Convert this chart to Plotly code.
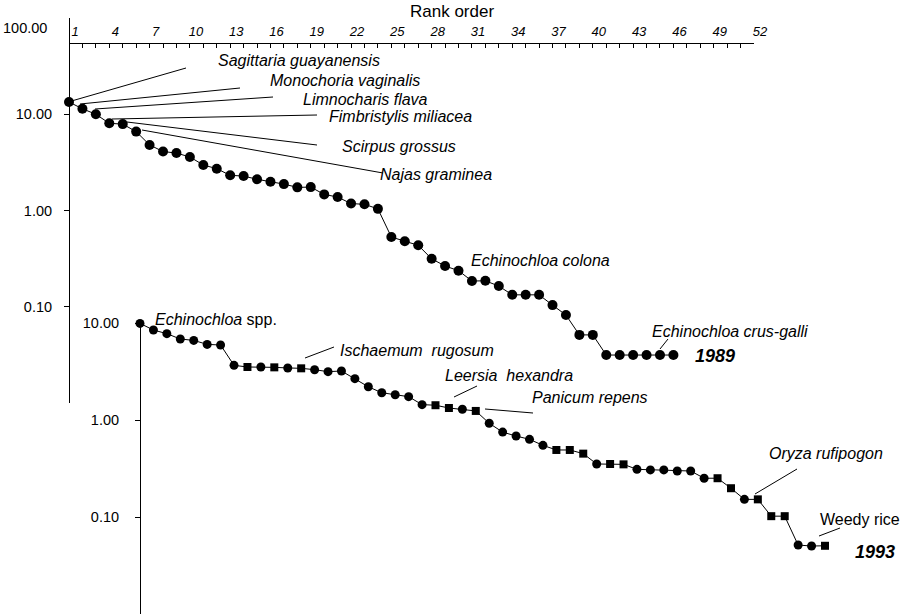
import plotly.graph_objects as go

W, H = 907, 615

# ranks and relative cover values (log scale)
rank_1989 = list(range(1, 47))
cover_1989 = [13.4, 11.4, 10.0, 8.05, 7.9, 6.6, 4.8, 4.1, 3.95, 3.6,
              2.97, 2.72, 2.32, 2.28, 2.11, 1.99, 1.88, 1.74, 1.75, 1.47,
              1.38, 1.18, 1.16, 1.04, 0.53, 0.48, 0.435, 0.315, 0.265, 0.237,
              0.185, 0.186, 0.164, 0.133, 0.133, 0.133, 0.104, 0.082, 0.051, 0.051,
              0.0315, 0.0315, 0.0315, 0.0315, 0.0315, 0.0315]

rank_1993 = list(range(1, 53))
cover_1993 = [9.9, 8.47, 7.76, 6.84, 6.62, 6.02, 5.93, 3.66, 3.52, 3.52,
              3.49, 3.44, 3.41, 3.30, 3.15, 3.20, 2.67, 2.20, 1.91, 1.82,
              1.74, 1.44, 1.42, 1.33, 1.29, 1.24, 0.925, 0.75, 0.684, 0.632,
              0.548, 0.491, 0.491, 0.450, 0.352, 0.352, 0.349, 0.310, 0.306, 0.306,
              0.298, 0.298, 0.251, 0.251, 0.198, 0.152, 0.152, 0.102, 0.102, 0.0514,
              0.0502, 0.0505]
# ranks drawn with square markers in 1993
square_ranks_1993 = [9, 11, 13, 23, 24, 26, 32, 33, 34, 36, 37, 44, 45, 47, 48, 49, 52]

top_ticks = list(range(1, 53))
top_ticktext = [str(r) if (r - 1) % 3 == 0 else '' for r in top_ticks]
y_tickvals = [10, 1, 0.1]
y_ticktext = ['10.00', '1.00', '0.10']

FONT = 'Liberation Sans, Arial, sans-serif'


def px(x, y):
    # pixel position -> paper coords
    return x / W, 1 - y / H


symbols_1993 = ['square' if r in square_ranks_1993 else 'circle' for r in rank_1993]
sizes_1993 = [8 if s == 'square' else 9 for s in symbols_1993]

trace1 = go.Scatter(x=rank_1989, y=cover_1989, mode='lines+markers', xaxis='x', yaxis='y',
                    line=dict(color='black', width=1), cliponaxis=False,
                    marker=dict(symbol='circle', size=10, color='black', opacity=1,
                                line=dict(width=0)), name='1989')
trace2 = go.Scatter(x=rank_1993, y=cover_1993, mode='lines+markers', xaxis='x2', yaxis='y2',
                    line=dict(color='black', width=1), cliponaxis=False,
                    marker=dict(symbol=symbols_1993, size=sizes_1993, color='black', opacity=1,
                                line=dict(width=0)), name='1993')

fig = go.Figure(data=[trace1, trace2])

fig.update_layout(
    template='none',
    width=W, height=H, margin=dict(l=0, r=0, t=0, b=0, pad=0),
    paper_bgcolor='white', plot_bgcolor='rgba(0,0,0,0)',
    showlegend=False,
    font=dict(family=FONT, color='black'),
    xaxis=dict(domain=[69 / W, 754 / W], range=[1, 52], side='top', anchor='free',
               position=1 - 43 / H, showline=True, linecolor='black', linewidth=1,
               showgrid=False, zeroline=False, ticks='inside', ticklen=4, tickcolor='black',
               tickvals=top_ticks, ticktext=top_ticktext, ticklabelshift=6, ticklabelstandoff=2,
               tickfont=dict(size=13, style='italic'), automargin=False),
    yaxis=dict(type='log', range=[-2, 2], domain=[1 - 403 / H, 1 - 18 / H], anchor='free',
               position=69 / W, showline=True, linecolor='black', linewidth=1,
               showgrid=False, zeroline=False, ticks='outside', ticklen=5, tickcolor='black',
               tickvals=y_tickvals, ticktext=y_ticktext, ticklabelstandoff=9,
               tickfont=dict(size=14.5), automargin=False),
    xaxis2=dict(domain=[140 / W, 825 / W], range=[1, 52], anchor='y2', visible=False),
    yaxis2=dict(type='log', range=[-2, 1], domain=[1 - 614 / H, 1 - 323 / H], anchor='free',
                position=140 / W, showline=True, linecolor='black', linewidth=1,
                showgrid=False, zeroline=False, ticks='outside', ticklen=5, tickcolor='black',
                tickvals=y_tickvals, ticktext=y_ticktext, ticklabelstandoff=13,
                tickfont=dict(size=14.5), automargin=False),
)

# text labels: (text, left x, center y, size)
labels = [
    ('Rank order', 408, 11, 17),
    ('<i>Sagittaria guayanensis</i>', 216, 61, 16),
    ('<i>Monochoria vaginalis</i>', 268, 80, 16),
    ('<i>Limnocharis flava</i>', 301, 99, 16),
    ('<i>Fimbristylis miliacea</i>', 327, 117, 16),
    ('<i>Scirpus grossus</i>', 340, 146, 16),
    ('<i>Najas graminea</i>', 378, 174, 16),
    ('<i>Echinochloa colona</i>', 469, 261, 16),
    ('<i>Echinochloa crus-galli</i>', 650, 331, 16),
    ('<b><i>1989</i></b>', 693, 356, 18),
    ('<i>Echinochloa</i> spp.', 153, 319, 16),
    ('<i>Ischaemum  rugosum</i>', 338, 351, 16),
    ('<i>Leersia  hexandra</i>', 443, 375, 16),
    ('<i>Panicum repens</i>', 530, 398, 16),
    ('<i>Oryza rufipogon</i>', 767, 454, 16),
    ('Weedy rice', 818, 519, 16),
    ('<b><i>1993</i></b>', 853, 552, 18),
    ('100.00', 49, 28, 14.5),
]
for text, lx, cy, size in labels:
    ax_, ay_ = px(lx, cy)
    xanchor = 'right' if text == '100.00' else 'left'
    fig.add_annotation(x=ax_, y=ay_, xref='paper', yref='paper', text=text, showarrow=False,
                       xanchor=xanchor, yanchor='middle', font=dict(size=size, family=FONT, color='black'))

# leader lines in pixels
leaders = [
    (68, 102, 186, 68),
    (80, 104, 240, 88),
    (95, 109, 273, 97),
    (112, 119, 317, 115),
    (127, 122, 317, 145),
    (142, 130, 383, 173),
    (660, 349, 668, 339),
    (305, 358, 334, 347),
    (454, 397, 477, 386),
    (485, 409, 533, 413),
    (755, 494, 797, 469),
    (819, 536, 840, 528),
]
for x0, y0, x1, y1 in leaders:
    p0 = px(x0, y0)
    p1 = px(x1, y1)
    fig.add_shape(type='line', xref='paper', yref='paper', x0=p0[0], y0=p0[1], x1=p1[0], y1=p1[1],
                  line=dict(color='black', width=1))

fig.write_html("out.html", config={'displayModeBar': False},
               post_script="document.body.style.margin='0';")
